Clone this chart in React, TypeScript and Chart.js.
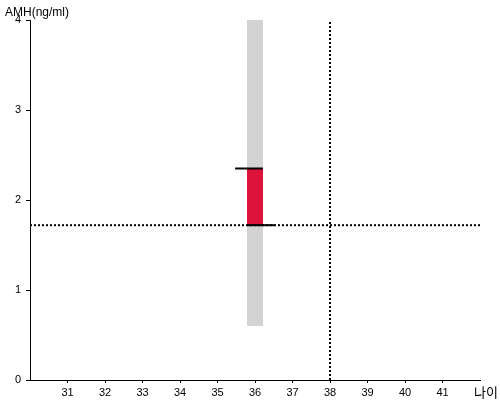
import React, { useEffect, useRef } from "react";
import { Chart, registerables } from "chart.js";

Chart.register(...registerables);

const ageTicks = [31, 32, 33, 34, 35, 36, 37, 38, 39, 40, 41];
const amhTicks = [0, 1, 2, 3, 4];
const xRange = [30, 42];
const yRange = [0, 4];

const rangeAge = [36, 36];
const rangeAmh = [0.6, 4];
const valueAmh = [1.72, 2.35];
const upperMarkAge = [35.47, 36.21];
const upperMarkAmh = [2.35, 2.35];
const lowerMarkAge = [35.79, 36.53];
const lowerMarkAmh = [1.72, 1.72];
const refLineAge = [30, 42];
const refLineAmh = [1.72, 1.72];
const refVertAge = [38, 38];
const refVertAmh = [0, 4];

const yTitle = "AMH(ng/ml)";
const xTitle = "나이";

const pts = (xs: number[], ys: number[]) => xs.map((x, i) => ({ x, y: ys[i] }));

const titlePlugin = {
  id: "axisTitles",
  afterDraw(chart: any) {
    const ctx = chart.ctx;
    ctx.save();
    ctx.fillStyle = "#000";
    ctx.font = "12px 'Liberation Sans', Arial, sans-serif";
    ctx.textBaseline = "alphabetic";
    ctx.textAlign = "left";
    ctx.fillText(yTitle, 5, 16);
    ctx.font = "13px 'Noto Sans CJK KR', sans-serif";
    ctx.fillText(xTitle, 474, 397);
    ctx.restore();
  },
};

export default function App() {
  const ref = useRef<HTMLCanvasElement>(null);
  useEffect(() => {
    if (!ref.current) return;
    const line = (data: any, color: string, width: number, dash: number[] = []) => ({
      type: "scatter" as const,
      data,
      showLine: true,
      borderColor: color,
      backgroundColor: color,
      borderWidth: width,
      borderDash: dash,
      borderCapStyle: "butt",
      pointRadius: 0,
      pointHoverRadius: 0,
      clip: false,
    });
    // Chart.js draws dataset 0 on top, so list topmost first
    const chart = new Chart(ref.current, {
      type: "scatter",
      data: {
        datasets: [
          line(pts(upperMarkAge, upperMarkAmh), "#000", 2),
          line(pts(lowerMarkAge, lowerMarkAmh), "#000", 2),
          line(pts(refLineAge, refLineAmh), "#000", 2, [2, 2]),
          line(pts(refVertAge, refVertAmh), "#000", 2, [2, 2]),
          line(pts(rangeAge, valueAmh), "#DC143C", 16),
          line(pts(rangeAge, rangeAmh), "#D3D3D3", 16),
        ] as any,
      },
      options: {
        animation: false,
        responsive: false,
        maintainAspectRatio: false,
        layout: { padding: { left: 0, top: 20, right: 20, bottom: 0 } },
        plugins: { legend: { display: false }, tooltip: { enabled: false } },
        scales: {
          x: {
            type: "linear",
            min: xRange[0],
            max: xRange[1],
            afterBuildTicks: (s: any) => {
              s.ticks = ageTicks.map((v) => ({ value: v }));
            },
            afterFit: (s: any) => {
              s.height = 20;
            },
            grid: { display: true, drawOnChartArea: false, drawTicks: true, tickLength: 3, color: "#000" },
            border: { display: true, color: "#000", width: 1 },
            ticks: {
              color: "#000",
              padding: 3,
              maxRotation: 0,
              autoSkip: false,
              font: { family: "'Liberation Sans', Arial, sans-serif", size: 11 },
            },
          },
          y: {
            type: "linear",
            min: yRange[0],
            max: yRange[1],
            afterBuildTicks: (s: any) => {
              s.ticks = amhTicks.map((v) => ({ value: v }));
            },
            afterFit: (s: any) => {
              s.width = 30;
            },
            grid: { display: true, drawOnChartArea: false, drawTicks: true, tickLength: 4, color: "#000" },
            border: { display: true, color: "#000", width: 1 },
            ticks: {
              color: "#000",
              padding: 5,
              font: { family: "'Liberation Sans', Arial, sans-serif", size: 11 },
            },
          },
        },
      },
      plugins: [titlePlugin],
    });
    return () => chart.destroy();
  }, []);
  return (
    <div style={{ position: "absolute", left: 0, top: 0, width: 500, height: 400, background: "#fff" }}>
      <canvas ref={ref} width={500} height={400} />
    </div>
  );
}
